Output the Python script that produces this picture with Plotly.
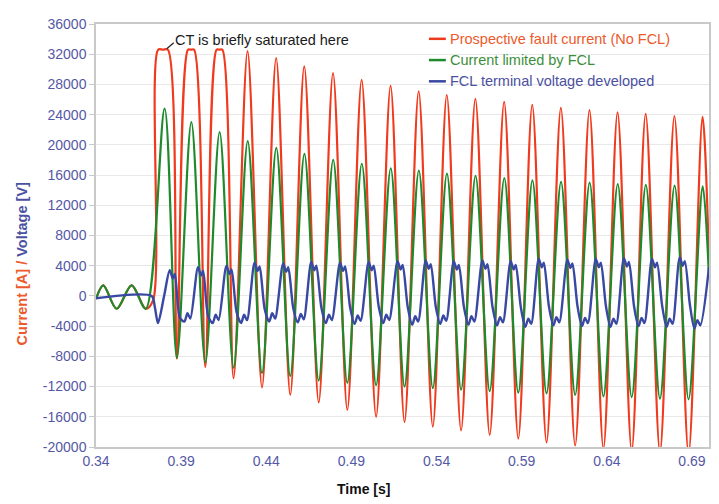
import plotly.graph_objects as go

# ---------------- data ----------------
# pre-fault load current (red and green coincide)
pre_t = [0.3400, 0.3443, 0.3521, 0.3609, 0.3692]
pre_v = [-400, 1400, -1700, 1400, -1700]

# prospective fault current (No FCL)
red_onset_t = [0.3735]
red_onset_v = [-600]
red_clip_v = 32600
red_flat_t = [[0.3765, 0.3793, 0.3822],
              [0.3940, 0.3958, 0.3976],
              [0.4108, 0.4125, 0.4142]]
red_peak_t = [0.3792, 0.3958, 0.4125, 0.4290, 0.4458, 0.4623, 0.4792, 0.4960,
              0.5130, 0.5295, 0.5460, 0.5628, 0.5797, 0.5962, 0.6130, 0.6298,
              0.6463, 0.6628, 0.6797, 0.6962]
red_peak_v = [32600, 32600, 32600, 32400, 31500, 30400, 29500, 28600,
              27800, 27100, 26600, 26100, 25700, 25300, 24900, 24600,
              24300, 24100, 23800, 23700]
red_trough_t = [0.3875, 0.4042, 0.4208, 0.4375, 0.4541, 0.4708, 0.4876, 0.5045,
                0.5212, 0.5378, 0.5544, 0.5712, 0.5880, 0.6046, 0.6214, 0.6380,
                0.6546, 0.6712, 0.6880]
red_trough_v = [-8300, -9400, -10900, -12100, -13100, -14100, -15100, -16000,
                -16700, -17300, -17800, -18400, -18900, -19400, -19800, -20200,
                -20500, -20700, -20900]
red_end_t, red_end_v = 0.7000, 4500

# current limited by FCL
green_peak_t = [0.3803, 0.3960, 0.4126, 0.4291, 0.4459, 0.4624, 0.4793, 0.4961,
                0.5131, 0.5296, 0.5461, 0.5629, 0.5798, 0.5963, 0.6131, 0.6299,
                0.6464, 0.6629, 0.6798, 0.6963]
green_peak_v = [24800, 23000, 21700, 20500, 19600, 18800, 18000, 17500,
                16900, 16600, 16200, 15900, 15600, 15300, 15100, 15000,
                14800, 14700, 14600, 14500]
green_trough_t = red_trough_t
green_trough_v = [-8200, -8800, -9500, -10200, -10600, -11200, -11500, -11800,
                  -12000, -12200, -12400, -12600, -12800, -12900, -13100, -13300,
                  -13400, -13600, -13700]
green_end_t, green_end_v = 0.7000, 2500

# FCL terminal voltage developed
blue_pre_t = [0.3400, 0.3727, 0.3745, 0.3764, 0.3800]
blue_pre_v = [-300, 0, -1400, -3600, 0]
blue_peak_t = [0.3833, 0.3999, 0.4166, 0.4331, 0.4499, 0.4664, 0.4833, 0.5001,
               0.5171, 0.5336, 0.5501, 0.5669, 0.5835, 0.6000, 0.6168, 0.6335,
               0.6500, 0.6665, 0.6828]
blue_peak_v = [3400, 3800, 4000, 4400, 4300, 4500, 4400, 4500, 4600, 4700,
               4600, 4700, 4600, 4900, 4800, 4900, 5000, 4900, 5100]
blue_shoulder_v = [-2900, -2700, -2200, -1800, -1700, -1600, -1600, -1500, -1500, -1500,
                   -1500, -1500, -1500, -1400, -1400, -1400, -1400, -1300, -1200]
blue_trough_v = [-3400, -3600, -3600, -3400, -3500, -3600, -3700, -3600, -3800, -3700,
                 -3800, -3900, -4100, -3900, -4000, -4100, -4000, -4100, -4300]
# intra-cycle feature times after each voltage peak, and level changes
blue_shape_dt = [0.0, 0.0018, 0.0030, 0.0060, 0.0086, 0.0104, 0.0121]
blue_dip = 1100
blue_bump = 500
blue_notch = 1100
blue_notch2 = 400
blue_end_t, blue_end_v = 0.7000, 3800

legend_names = ["Prospective fault current (No FCL)", "Current limited by FCL",
                "FCL terminal voltage developed"]
y_ticks = list(range(-20000, 36001, 4000))
x_ticks = [0.34, 0.39, 0.44, 0.49, 0.54, 0.59, 0.64, 0.69]

# ---------------- build the series ----------------
rx, ry = list(pre_t) + red_onset_t, list(pre_v) + red_onset_v
for k in range(len(red_peak_t)):
    if k < len(red_flat_t):
        rx += red_flat_t[k]
        ry += [red_clip_v] * len(red_flat_t[k])
    else:
        rx.append(red_peak_t[k]); ry.append(red_peak_v[k])
    if k < len(red_trough_t):
        rx.append(red_trough_t[k]); ry.append(red_trough_v[k])
rx.append(red_end_t); ry.append(red_end_v)

gx, gy = list(pre_t), list(pre_v)
for k in range(len(green_peak_t)):
    gx.append(green_peak_t[k]); gy.append(green_peak_v[k])
    if k < len(green_trough_t):
        gx.append(green_trough_t[k]); gy.append(green_trough_v[k])
gx.append(green_end_t); gy.append(green_end_v)

bx, by = list(blue_pre_t), list(blue_pre_v)
for k in range(len(blue_peak_t)):
    P, T, S = blue_peak_v[k], blue_trough_v[k], blue_shoulder_v[k]
    vals = [P, P - blue_dip, P - blue_bump, S, T, T + blue_notch, T + blue_notch2]
    for dt, v in zip(blue_shape_dt, vals):
        bx.append(blue_peak_t[k] + dt); by.append(v)
bx.append(blue_end_t); by.append(blue_end_v)

RED, GREEN, BLUE = "#ef3a1d", "#1e8a2c", "#3848a3"
RED_T, GREEN_T, BLUE_T = "#ec5a2c", "#3b8f3b", "#4b51a2"
TICK = "#5558a6"

fig = go.Figure()
fig.add_trace(go.Scatter(x=rx, y=ry, mode="lines", name=legend_names[0],
                         line=dict(color=RED, width=2.2, shape="spline", smoothing=0.9)))
fig.add_trace(go.Scatter(x=gx, y=gy, mode="lines", name=legend_names[1],
                         line=dict(color=GREEN, width=2.2, shape="spline", smoothing=0.9)))
fig.add_trace(go.Scatter(x=bx, y=by, mode="lines", name=legend_names[2],
                         line=dict(color=BLUE, width=2.4, shape="spline", smoothing=0.8)))

# the page body adds an 8px offset; compensate so the plot lands where the reference has it
OFF = 8
W, H = 719 - OFF, 504 - OFF
L, R, T, B = 96 - OFF, 8, 19 - OFF, 57
pw, ph = W - L - R, H - T - B


def px(xp):  # window pixel -> paper
    return (xp - OFF - L) / pw


def py(yp):
    return (H - B - (yp - OFF)) / ph


shapes, annotations = [], []
leg_cols = [(RED, RED_T), (GREEN, GREEN_T), (BLUE, BLUE_T)]
for i, (name, (lc, tc)) in enumerate(zip(legend_names, leg_cols)):
    yy = 34 + i * 21.5
    shapes.append(dict(type="line", xref="paper", yref="paper",
                       x0=px(430), x1=px(447), y0=py(yy), y1=py(yy),
                       line=dict(color=lc, width=2.5)))
    annotations.append(dict(xref="paper", yref="paper", x=px(449), y=py(yy),
                            xanchor="left", yanchor="middle", showarrow=False,
                            text=name, font=dict(color=tc, size=14.5,
                                                 family="Liberation Sans, Arial")))

# CT note
shapes.append(dict(type="line", xref="paper", yref="paper",
                   x0=px(167), y0=py(44), x1=px(174), y1=py(38),
                   line=dict(color="#222222", width=1.2)))
annotations.append(dict(xref="paper", yref="paper", x=px(173), y=py(35),
                        xanchor="left", yanchor="middle", showarrow=False,
                        text="CT is briefly saturated here",
                        font=dict(color="#1a1a1a", size=14.5, family="Liberation Sans, Arial")))

# axis titles
annotations.append(dict(xref="paper", yref="paper", x=px(364), y=py(490),
                        xanchor="center", yanchor="middle", showarrow=False,
                        text="<b>Time [s]</b>",
                        font=dict(color="#111111", size=14, family="Liberation Sans, Arial")))
annotations.append(dict(xref="paper", yref="paper", x=px(22), y=py(262),
                        xanchor="center", yanchor="middle", showarrow=False, textangle=-90,
                        text=("<b><span style='color:%s'>Current [A] /</span> "
                              "<span style='color:%s'>Voltage [V]</span></b>") % (RED_T, BLUE_T),
                        font=dict(size=14.5, family="Liberation Sans, Arial")))

fig.update_layout(
    width=W, height=H, margin=dict(l=L, r=R, t=T, b=B),
    paper_bgcolor="white", plot_bgcolor="white", showlegend=False,
    shapes=shapes, annotations=annotations,
    font=dict(family="Liberation Sans, Arial", size=14, color=TICK),
)
fig.update_xaxes(range=[0.34, 0.70], tickvals=x_ticks,
                 ticktext=["%.2f" % v for v in x_ticks],
                 showgrid=False, zeroline=False, showline=True, mirror=True,
                 linecolor="#c9c9c9", linewidth=1.5, ticks="",
                 tickfont=dict(color=TICK, size=14))
fig.update_yaxes(range=[-20000, 36000], tickvals=y_ticks,
                 ticktext=[str(v) for v in y_ticks],
                 showgrid=True, gridcolor="#e8e8e8", zeroline=False,
                 showline=True, mirror=True, linecolor="#c9c9c9", linewidth=1.5,
                 ticks="outside", ticklen=5, tickcolor="#c9c9c9",
                 tickfont=dict(color=TICK, size=14))

fig.write_html("out.html")
